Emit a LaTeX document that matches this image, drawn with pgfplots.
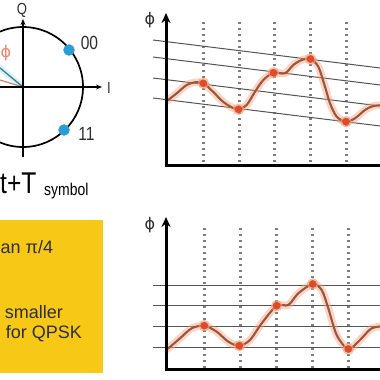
\documentclass[border=0pt]{standalone}
\usepackage{pgfplots}
\pgfplotsset{compat=1.18}
\usepackage{pgfplotstable}
\usepackage{fontspec}
\setmainfont{Liberation Sans}
\newfontfamily\cond{Liberation Sans}[FakeStretch=0.82]
\newfontfamily\dejavu{DejaVu Sans}
\usetikzlibrary{arrows.meta}
\definecolor{boxyellow}{HTML}{F8C816}
\definecolor{dotblue}{HTML}{2A9DD5}
\definecolor{wavered}{HTML}{DE4A2C}
\definecolor{glow}{HTML}{F7A27A}
\definecolor{wavecore}{HTML}{9A5440}
\definecolor{refline}{HTML}{555555}
\definecolor{dotgray}{HTML}{7E7E7E}
\definecolor{txt}{HTML}{2E2E2E}
\definecolor{phiorange}{HTML}{E8876A}
\definecolor{tealline}{HTML}{3E7F86}
\definecolor{brownline}{HTML}{C08A70}

% top waveform (pixel coords, y downward)
\pgfplotstableread{
x y
166 100.5
168 100
176.7 93.3
186.7 85
195 82.3
203.3 83.3
213 91.7
223 101.7
231.7 107.3
238.5 109.3
246.7 105
255 91.7
263.3 80
273.5 72.7
285 73.3
293.3 65
301.7 60
310.5 59
318.3 66.7
325 86.7
330 103.3
336.7 116.7
346 121.7
355 118.3
365 110
373.3 106
386 105
}\topwave
\pgfplotstableread{
x y
203.3 83.3
238.5 109.3
273.5 72.7
310.5 59
346 121.7
381.5 105.5
}\topdots
% bottom waveform
\pgfplotstableread{
x y
166 349
168.3 348.3
180 338.3
191.7 328.3
204.3 325.7
216.7 331.7
228.3 341.7
239.3 345.7
250 340
261.7 323.3
276.7 305.7
288.3 305
298.3 293.3
312.7 284
321.7 290
328.3 308.3
336.7 335
348.3 349
360 340
371.7 328.3
386 326
}\botwave
\pgfplotstableread{
x y
204.3 325.7
239.3 345.7
276.7 305.7
312.7 284
348.3 349
}\botdots

\begin{document}
\begin{tikzpicture}
\begin{axis}[
  x=1bp, y=1bp, y dir=reverse,
  xmin=0, xmax=380, ymin=0, ymax=380,
  hide axis, clip=true,
  dotv/.style={dotgray, line width=3bp, dash pattern=on 2.4bp off 3.6bp},
  refl/.style={refline, line width=1bp},
]
% background
\addplot[draw=none, fill=white] coordinates {(-5,-5) (385,-5) (385,385) (-5,385)} -- cycle;

% ===== left constellation =====
\addplot[cyan!35, line width=6bp, opacity=0.45] coordinates {(23,87) (-2,66.3)};
\addplot[brownline, line width=1.2bp] coordinates {(23,87) (-2,79.4)};
\addplot[tealline, line width=1.3bp] coordinates {(23,87) (-2,66.3)};
\draw[black, line width=1.7bp] (axis cs:23,87) circle [radius=60];
\addplot[black, line width=1.4bp, -{Stealth[length=6bp,width=5bp]}] coordinates {(-2,87) (102,87)};
\addplot[black, line width=1.4bp, -{Stealth[length=6bp,width=5bp]}] coordinates {(23,157) (23,19)};
\addplot[only marks, mark=*, mark size=5.5, color=dotblue] coordinates {(69,50) (64,130)};
\node[font=\cond\fontsize{16bp}{18bp}\selectfont, text=txt] at (axis cs:22,10) {Q};
\node[font=\cond\fontsize{16bp}{18bp}\selectfont, text=txt] at (axis cs:109,88) {I};
\node[font=\cond\fontsize{19bp}{21bp}\selectfont, text=txt] at (axis cs:89.5,43) {00};
\node[font=\cond\fontsize{19bp}{21bp}\selectfont, text=txt] at (axis cs:86.5,133.5) {11};
\node[font=\dejavu\fontsize{16bp}{18bp}\selectfont, text=phiorange] at (axis cs:6,53) {\char"03D5};
\node[font=\cond\fontsize{30bp}{32bp}\selectfont, text=black, anchor=base west, inner sep=0pt] at (axis cs:0,193) {t+T};
\node[font=\cond\fontsize{17bp}{19bp}\selectfont, text=black, anchor=base west, inner sep=0pt] at (axis cs:44,195) {symbol};

% ===== yellow box =====
\addplot[draw=none, fill=boxyellow] coordinates {(-5,220) (103,220) (103,373) (-5,373)} -- cycle;
\node[font=\fontsize{18bp}{20bp}\selectfont, text=txt, anchor=base west, inner sep=0pt] at (axis cs:0.5,253) {an π/4};
\node[font=\fontsize{18bp}{20bp}\selectfont, text=txt, anchor=base east, inner sep=0pt] at (axis cs:63,318) {smaller};
\node[font=\fontsize{18bp}{20bp}\selectfont, text=txt, anchor=base east, inner sep=0pt] at (axis cs:82,338) {for QPSK};

% ===== top waveform panel =====
\addplot[dotv] coordinates {(203.3,22) (203.3,165)};
\addplot[dotv] coordinates {(239,22) (239,165)};
\addplot[dotv] coordinates {(274.3,22) (274.3,165)};
\addplot[dotv] coordinates {(310,22) (310,165)};
\addplot[dotv] coordinates {(346,22) (346,165)};
\addplot[dotv] coordinates {(381.5,22) (381.5,165)};
\addplot[refl] coordinates {(153,40) (386,68.7)};
\addplot[refl] coordinates {(153,57) (386,85.7)};
\addplot[refl] coordinates {(153,78) (386,106.7)};
\addplot[refl] coordinates {(153,98) (386,126.7)};
\addplot[glow, line width=7.5bp, opacity=0.45, smooth, tension=0.5] table {\topwave};
\addplot[only marks, mark=*, mark size=5.5, color=glow, opacity=0.6] table {\topdots};
\addplot[wavecore, line width=2.1bp, smooth, tension=0.5] table {\topwave};
\addplot[only marks, mark=*, mark size=3.6, color=wavered] table {\topdots};
\addplot[black, line width=3bp, -{Stealth[length=10bp,width=9bp]}] coordinates {(166,166.5) (166,13)};
\addplot[black, line width=3bp] coordinates {(164.5,165) (386,165)};
\node[font=\dejavu\fontsize{16bp}{18bp}\selectfont, text=txt] at (axis cs:150,20) {\char"03D5};

% ===== bottom waveform panel =====
\addplot[dotv] coordinates {(204.3,228) (204.3,369)};
\addplot[dotv] coordinates {(240,228) (240,369)};
\addplot[dotv] coordinates {(276.7,228) (276.7,369)};
\addplot[dotv] coordinates {(312.7,228) (312.7,369)};
\addplot[dotv] coordinates {(348.3,228) (348.3,369)};
\addplot[refl] coordinates {(153,285.7) (386,285.7)};
\addplot[refl] coordinates {(153,305.7) (386,305.7)};
\addplot[refl] coordinates {(153,326.7) (386,326.7)};
\addplot[refl] coordinates {(153,347.7) (386,347.7)};
\addplot[glow, line width=7.5bp, opacity=0.45, smooth, tension=0.5] table {\botwave};
\addplot[only marks, mark=*, mark size=5.5, color=glow, opacity=0.6] table {\botdots};
\addplot[wavecore, line width=2.1bp, smooth, tension=0.5] table {\botwave};
\addplot[only marks, mark=*, mark size=3.6, color=wavered] table {\botdots};
\addplot[black, line width=3bp, -{Stealth[length=10bp,width=9bp]}] coordinates {(166,370.5) (166,217)};
\addplot[black, line width=3bp] coordinates {(164.5,369) (386,369)};
\node[font=\dejavu\fontsize{16bp}{18bp}\selectfont, text=txt] at (axis cs:150,225) {\char"03D5};

\coordinate (SW) at (rel axis cs:0,0);
\coordinate (NE) at (rel axis cs:1,1);
\end{axis}
\pgfresetboundingbox
\path (SW) rectangle (NE);
\end{tikzpicture}
\end{document}
